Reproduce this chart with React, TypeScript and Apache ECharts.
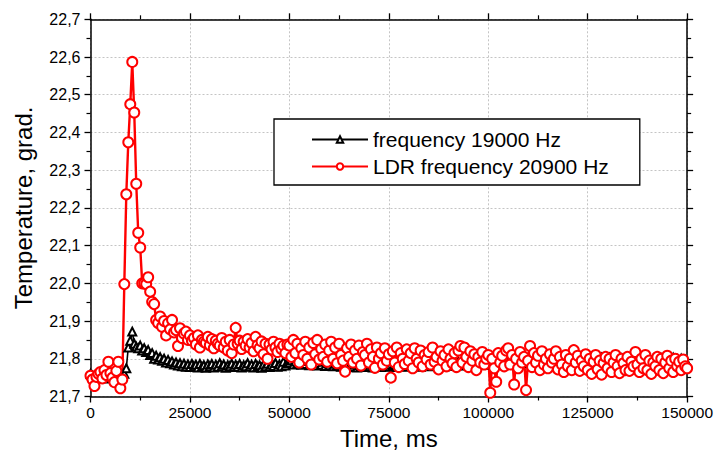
import React, { useEffect, useRef } from "react";
import * as echarts from "echarts";

const sampleStepMs = 500;

const seriesBlackName = "frequency 19000 Hz";
const seriesRedName = "LDR frequency 20900 Hz";

const xTicks = [0, 25000, 50000, 75000, 100000, 125000, 150000];
const yTicks = [21.7, 21.8, 21.9, 22.0, 22.1, 22.2, 22.3, 22.4, 22.5, 22.6, 22.7];

// frequency 19000 Hz (black, triangles)
const blackValues = [
  21.76, 21.755, 21.75, 21.758, 21.752, 21.76, 21.755, 21.748, 21.757, 21.762, 21.75, 21.755, 21.76, 21.752, 21.758, 21.75, 21.755, 21.76, 21.775, 21.83,
  21.848, 21.872, 21.84, 21.832, 21.828, 21.835, 21.822, 21.828, 21.818, 21.823, 21.81, 21.815, 21.8, 21.808, 21.798, 21.804, 21.795, 21.8, 21.79, 21.797,
  21.788, 21.793, 21.785, 21.79, 21.782, 21.788, 21.78, 21.787, 21.779, 21.785, 21.778, 21.786, 21.78, 21.784, 21.777, 21.786, 21.779, 21.783, 21.776, 21.785,
  21.78, 21.786, 21.777, 21.784, 21.779, 21.788, 21.78, 21.785, 21.776, 21.783, 21.78, 21.787, 21.778, 21.784, 21.779, 21.786, 21.777, 21.783, 21.78, 21.788,
  21.779, 21.784, 21.777, 21.786, 21.78, 21.783, 21.776, 21.785, 21.78, 21.787, 21.778, 21.784, 21.781, 21.789, 21.779, 21.785, 21.78, 21.792, 21.782, 21.788,
  21.79, 21.796, 21.785, 21.793, 21.787, 21.795, 21.784, 21.79, 21.786, 21.794, 21.783, 21.79, 21.785, 21.793, 21.782, 21.789, 21.784, 21.792, 21.781, 21.788,
  21.783, 21.79, 21.78, 21.787, 21.782, 21.788, 21.779, 21.785, 21.781, 21.787, 21.778, 21.784, 21.78, 21.786, 21.777, 21.783, 21.779, 21.786, 21.778, 21.784,
  21.78, 21.785, 21.777, 21.784, 21.779, 21.786, 21.778, 21.783, 21.78, 21.787, 21.779, 21.784, 21.781, 21.786, 21.778, 21.785, 21.78, 21.787, 21.779, 21.785,
  21.781, 21.787, 21.78, 21.786, 21.782, 21.788, 21.779, 21.785, 21.781, 21.787, 21.78, 21.786, 21.782, 21.789, 21.781, 21.787, 21.783, 21.788, 21.78, 21.786,
  21.782, 21.789, 21.781, 21.787, 21.783, 21.79, 21.782, 21.788, 21.784, 21.791, 21.783, 21.789, 21.785, 21.792, 21.784, 21.79, 21.786, 21.793, 21.785, 21.791,
  21.787, 21.794, 21.785, 21.792, 21.788, 21.795, 21.786, 21.793, 21.789, 21.796, 21.787, 21.794, 21.79, 21.797, 21.788, 21.795, 21.79, 21.798, 21.789, 21.795,
  21.791, 21.797, 21.788, 21.796, 21.79, 21.798, 21.789, 21.796, 21.791, 21.799, 21.79, 21.797, 21.792, 21.8, 21.79, 21.798, 21.792, 21.8, 21.791, 21.798,
  21.792, 21.8, 21.79, 21.799, 21.793, 21.801, 21.791, 21.799, 21.793, 21.802, 21.792, 21.8, 21.793, 21.802, 21.791, 21.8, 21.794, 21.803, 21.792, 21.8,
  21.794, 21.803, 21.792, 21.801, 21.795, 21.804, 21.793, 21.801, 21.795, 21.803, 21.792, 21.801, 21.794, 21.803, 21.792, 21.8, 21.795, 21.804, 21.793, 21.801,
  21.794, 21.803, 21.792, 21.8, 21.795, 21.804, 21.793, 21.801, 21.794, 21.802, 21.792, 21.8, 21.794, 21.803, 21.791, 21.799, 21.793, 21.8, 21.79, 21.797, 21.788,
];

// LDR frequency 20900 Hz (red, circles)
const redValues = [
  21.755, 21.745, 21.728, 21.752, 21.76, 21.765, 21.748, 21.77, 21.757, 21.792,
  21.762, 21.75, 21.738, 21.768, 21.792, 21.722, 21.745, 21.998, 22.236, 22.374,
  22.475, 22.587, 22.453, 22.264, 22.134, 22.095, 22.0, 22.0, 21.998, 22.016,
  21.978, 21.951, 21.945, 21.903, 21.895, 21.912, 21.885, 21.9, 21.862, 21.894,
  21.878, 21.903, 21.87, 21.876, 21.834, 21.881, 21.855, 21.867, 21.872, 21.85,
  21.862, 21.848, 21.855, 21.838, 21.862, 21.83, 21.85, 21.845, 21.842, 21.858,
  21.836, 21.852, 21.828, 21.848, 21.84, 21.835, 21.855, 21.83, 21.845, 21.822,
  21.85, 21.815, 21.838, 21.882, 21.84, 21.848, 21.826, 21.845, 21.835, 21.852,
  21.83, 21.842, 21.82, 21.858, 21.836, 21.828, 21.846, 21.812, 21.84, 21.8,
  21.838, 21.825, 21.845, 21.83, 21.818, 21.84, 21.826, 21.835, 21.815, 21.838,
  21.835, 21.805, 21.85, 21.815, 21.84, 21.79, 21.828, 21.81, 21.845, 21.8,
  21.83, 21.785, 21.842, 21.812, 21.85, 21.798, 21.826, 21.805, 21.838, 21.792,
  21.822, 21.845, 21.8, 21.83, 21.788, 21.84, 21.81, 21.795, 21.766, 21.828,
  21.805, 21.838, 21.79, 21.822, 21.8, 21.835, 21.782, 21.818, 21.81, 21.84,
  21.79, 21.825, 21.805, 21.776, 21.83, 21.8, 21.815, 21.785, 21.828, 21.795,
  21.812, 21.75, 21.82, 21.79, 21.83, 21.778, 21.815, 21.8, 21.786, 21.825,
  21.795, 21.815, 21.775, 21.828, 21.8, 21.79, 21.822, 21.78, 21.81, 21.798,
  21.818, 21.785, 21.83, 21.792, 21.805, 21.772, 21.82, 21.795, 21.81, 21.78,
  21.825, 21.8, 21.788, 21.815, 21.778, 21.822, 21.834, 21.79, 21.83, 21.805,
  21.778, 21.82, 21.795, 21.812, 21.77, 21.805, 21.79, 21.818, 21.785, 21.8,
  21.81, 21.71, 21.8, 21.775, 21.739, 21.815, 21.79, 21.808, 21.78, 21.822,
  21.828, 21.785, 21.81, 21.732, 21.8, 21.775, 21.818, 21.79, 21.805, 21.717,
  21.795, 21.834, 21.778, 21.815, 21.79, 21.808, 21.77, 21.82, 21.785, 21.8,
  21.775, 21.812, 21.79, 21.8, 21.82, 21.772, 21.805, 21.785, 21.765, 21.81,
  21.78, 21.8, 21.77, 21.823, 21.79, 21.808, 21.768, 21.795, 21.78, 21.812,
  21.77, 21.8, 21.76, 21.792, 21.81, 21.772, 21.795, 21.758, 21.788, 21.805,
  21.775, 21.8, 21.765, 21.79, 21.81, 21.78, 21.762, 21.8, 21.788, 21.77,
  21.805, 21.768, 21.792, 21.78, 21.818, 21.785, 21.765, 21.8, 21.775, 21.81,
  21.77, 21.795, 21.76, 21.79, 21.78, 21.805, 21.77, 21.8, 21.762, 21.79,
  21.808, 21.775, 21.795, 21.765, 21.8, 21.78, 21.792, 21.77, 21.798, 21.78,
  21.775,
];

const FONT = "'Liberation Sans', Arial, Helvetica, sans-serif";

const toPairs = (vals: number[]) => vals.map((v, i) => [i * sampleStepMs, v]);

export default function App() {
  const ref = useRef<HTMLDivElement>(null);

  useEffect(() => {
    document.body.style.margin = "0";
    if (!ref.current) return;
    const chart = echarts.init(ref.current, null, { renderer: "svg" });

    const axisLine = { show: true, onZero: false, lineStyle: { color: "#000", width: 1.5 } };
    const axisTick = { show: true, inside: false, length: 6, lineStyle: { color: "#000", width: 1.3 } };
    const minorTick = { show: true, splitNumber: 2, length: 4, lineStyle: { color: "#000", width: 1.2 } };
    const splitLine = { show: true, lineStyle: { color: "#c4c4c4", width: 1, type: [2, 2] } };

    const xMin = xTicks[0];
    const xMax = xTicks[xTicks.length - 1];
    const xInt = xTicks[1] - xTicks[0];
    const yMin = yTicks[0];
    const yMax = yTicks[yTicks.length - 1];
    const yInt = 0.1;

    chart.setOption({
      animation: false,
      backgroundColor: "#fff",
      textStyle: { fontFamily: FONT },
      grid: { left: 90.5, right: 26.5, top: 19.3, bottom: 61.5, containLabel: false },
      legend: {
        orient: "vertical",
        left: 274,
        top: 119,
        backgroundColor: "#fff",
        borderColor: "#000",
        borderWidth: 1.3,
        borderRadius: 0,
        padding: [10, 31, 8, 37],
        itemGap: 6,
        itemWidth: 56,
        itemHeight: 8,
        textStyle: { fontSize: 21, color: "#000", fontFamily: FONT },
        data: [seriesBlackName, seriesRedName],
      },
      xAxis: [
        {
          type: "value",
          position: "bottom",
          min: xMin,
          max: xMax,
          interval: xInt,
          name: "Time, ms",
          nameLocation: "middle",
          nameGap: 30,
          nameTextStyle: { fontSize: 24, color: "#000", fontFamily: FONT },
          axisLine,
          axisTick,
          minorTick,
          splitLine,
          axisLabel: { fontSize: 15.5, color: "#000", margin: 8, fontFamily: FONT, formatter: (v: number) => String(v) },
        },
        {
          type: "value",
          position: "top",
          min: xMin,
          max: xMax,
          interval: xInt,
          axisLine,
          axisTick,
          minorTick,
          splitLine: { show: false },
          axisLabel: { show: false },
        },
      ],
      yAxis: [
        {
          type: "value",
          position: "left",
          min: yMin,
          max: yMax,
          interval: yInt,
          name: "Temperature, grad.",
          nameLocation: "middle",
          nameGap: 55,
          nameTextStyle: { fontSize: 24, color: "#000", fontFamily: FONT },
          axisLine,
          axisTick,
          minorTick,
          splitLine,
          axisLabel: {
            fontSize: 16,
            color: "#000",
            margin: 10,
            fontFamily: FONT,
            formatter: (v: number) => v.toFixed(1).replace(".", ","),
          },
        },
        {
          type: "value",
          position: "right",
          min: yMin,
          max: yMax,
          interval: yInt,
          axisLine,
          axisTick,
          minorTick,
          splitLine: { show: false },
          axisLabel: { show: false },
        },
      ],
      series: [
        {
          name: seriesBlackName,
          type: "line",
          xAxisIndex: 0,
          yAxisIndex: 0,
          data: toPairs(blackValues),
          symbol: "emptyTriangle",
          symbolSize: 8,
          showAllSymbol: true,
          lineStyle: { color: "#000", width: 1.6 },
          itemStyle: { color: "#000", borderColor: "#000", borderWidth: 1 },
          emphasis: { disabled: true },
        },
        {
          name: seriesRedName,
          type: "line",
          xAxisIndex: 0,
          yAxisIndex: 0,
          data: toPairs(redValues),
          symbol: "emptyCircle",
          symbolSize: 10,
          showAllSymbol: true,
          lineStyle: { color: "#ff0000", width: 2.4 },
          itemStyle: { color: "#ff0000", borderColor: "#ff0000", borderWidth: 1.2 },
          emphasis: { disabled: true },
        },
      ],
    });

    return () => chart.dispose();
  }, []);

  return <div ref={ref} style={{ width: 716, height: 458 }} />;
}
